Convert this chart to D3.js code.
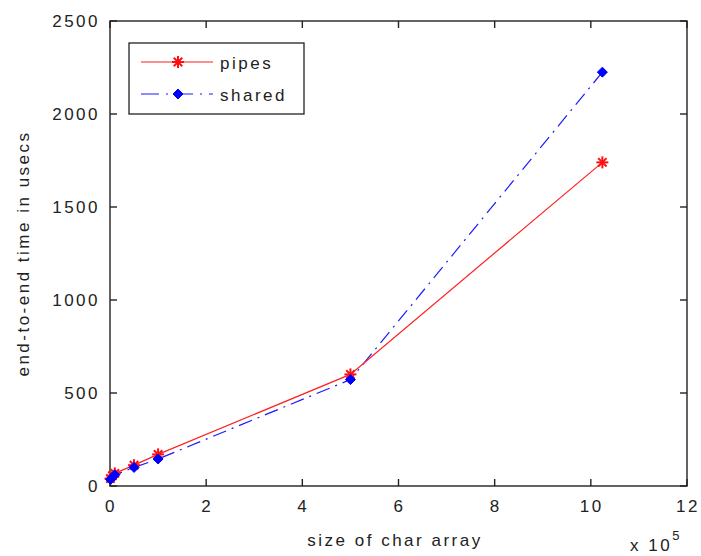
<!DOCTYPE html>
<html>
<head>
<meta charset="utf-8">
<script src="https://cdn.jsdelivr.net/npm/d3@7"></script>
<style>
  body { margin: 0; background: #fff; }
  text { font-family: "Liberation Sans", Arial, sans-serif; font-size: 17px; letter-spacing: 2.5px; fill: #222; }
</style>
</head>
<body>
<svg></svg>
<script>
let width = 701,
    height = 556;

// array size in units of 1e5
let sizes = [0.01, 0.05, 0.1, 0.5, 1, 5, 10.24]
let pipes = [40, 55, 68, 112, 170, 600, 1740]
let shared = [35, 45, 60, 100, 145, 572, 2225]
let xTicks = [0, 2, 4, 6, 8, 10, 12]
let yTicks = [0, 500, 1000, 1500, 2000, 2500]

let mLeft = 110, mRight = 687, mTop = 21, mBottom = 486

let svg = d3.select('svg')
    .attr('width', width)
    .attr('height', height)

let x = d3.scaleLinear().domain([0, 12]).range([mLeft, mRight])
let y = d3.scaleLinear().domain([0, 2500]).range([mBottom, mTop])

// box
svg.append('rect')
    .attr('x', mLeft).attr('y', mTop)
    .attr('width', mRight - mLeft).attr('height', mBottom - mTop)
    .attr('fill', 'none').attr('stroke', '#222').attr('stroke-width', 1.4)

// inward ticks on all sides
let tickLen = 7
let g = svg.append('g').attr('stroke', '#222').attr('stroke-width', 1.4)
xTicks.forEach(t => {
    g.append('line').attr('x1', x(t)).attr('x2', x(t)).attr('y1', mBottom).attr('y2', mBottom - tickLen)
    g.append('line').attr('x1', x(t)).attr('x2', x(t)).attr('y1', mTop).attr('y2', mTop + tickLen)
})
yTicks.forEach(t => {
    g.append('line').attr('x1', mLeft).attr('x2', mLeft + tickLen).attr('y1', y(t)).attr('y2', y(t))
    g.append('line').attr('x1', mRight).attr('x2', mRight - tickLen).attr('y1', y(t)).attr('y2', y(t))
})

svg.selectAll('.xl').data(xTicks).enter().append('text')
    .attr('x', d => x(d) + 1)
    .attr('y', mBottom + 26)
    .attr('text-anchor', 'middle')
    .text(d => d)

svg.selectAll('.yl').data(yTicks).enter().append('text')
    .attr('x', mLeft - 10)
    .attr('y', d => y(d) + 6)
    .attr('text-anchor', 'end')
    .text(d => d)

svg.append('text')
    .attr('x', 395).attr('y', 546)
    .attr('text-anchor', 'middle')
    .text('size of char array')

svg.append('text')
    .attr('transform', 'translate(29,' + (mBottom + mTop) / 2 + ') rotate(-90)')
    .attr('text-anchor', 'middle')
    .text('end-to-end time in usecs')

let exp = svg.append('text').attr('x', 630).attr('y', 551)
exp.append('tspan').text('x 10')
exp.append('tspan').attr('dy', -11).attr('font-size', 13).text('5')

let line = d3.line().x(d => x(d[0])).y(d => y(d[1]))
let pipesData = sizes.map((s, i) => [s, pipes[i]])
let sharedData = sizes.map((s, i) => [s, shared[i]])

svg.append('path').datum(sharedData)
    .attr('d', line)
    .attr('fill', 'none').attr('stroke', '#1a1aff').attr('stroke-width', 1.2)
    .attr('stroke-dasharray', '14,6,2,6')

svg.append('path').datum(pipesData)
    .attr('d', line)
    .attr('fill', 'none').attr('stroke', '#ff2020').attr('stroke-width', 1.2)

function star(sel, cx, cy) {
    let r = 6
    let s = sel.append('g').attr('stroke', '#ff1010').attr('stroke-width', 2)
    s.append('line').attr('x1', cx - r).attr('x2', cx + r).attr('y1', cy).attr('y2', cy)
    s.append('line').attr('x1', cx).attr('x2', cx).attr('y1', cy - r).attr('y2', cy + r)
    s.append('line').attr('x1', cx - r * 0.7).attr('x2', cx + r * 0.7).attr('y1', cy - r * 0.7).attr('y2', cy + r * 0.7)
    s.append('line').attr('x1', cx - r * 0.7).attr('x2', cx + r * 0.7).attr('y1', cy + r * 0.7).attr('y2', cy - r * 0.7)
}
function dot(sel, cx, cy) {
    sel.append('path')
        .attr('d', `M${cx},${cy - 5}L${cx + 5},${cy}L${cx},${cy + 5}L${cx - 5},${cy}Z`)
        .attr('fill', '#0000ff').attr('stroke', '#0000ff').attr('stroke-width', 1)
}

pipesData.forEach(d => star(svg, x(d[0]), y(d[1])))
sharedData.forEach(d => dot(svg, x(d[0]), y(d[1])))

// legend
let lg = svg.append('g')
lg.append('rect').attr('x', 129).attr('y', 43).attr('width', 175).attr('height', 71)
    .attr('fill', '#fff').attr('stroke', '#222').attr('stroke-width', 1.3)
lg.append('line').attr('x1', 141).attr('x2', 213).attr('y1', 62).attr('y2', 62)
    .attr('stroke', '#ff2020').attr('stroke-width', 1.2)
star(lg, 178, 62)
lg.append('line').attr('x1', 141).attr('x2', 213).attr('y1', 94).attr('y2', 94)
    .attr('stroke', '#1a1aff').attr('stroke-width', 1.2).attr('stroke-dasharray', '18,7,2,7')
dot(lg, 178, 94)
lg.append('text').attr('x', 220).attr('y', 69).text('pipes')
lg.append('text').attr('x', 220).attr('y', 101).text('shared')
</script>
</body>
</html>
